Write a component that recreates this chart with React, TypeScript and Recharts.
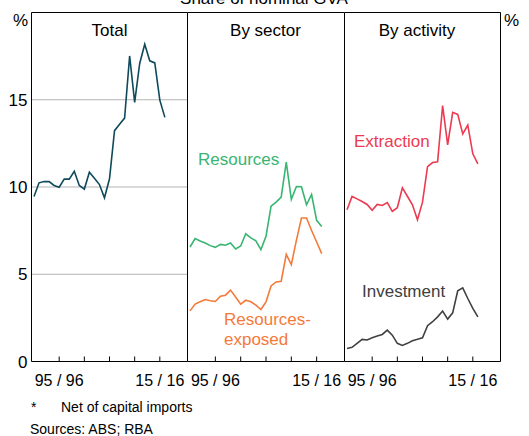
import React from 'react';
import { LineChart, Line, XAxis, YAxis, CartesianGrid } from 'recharts';

const years = [1991, 1992, 1993, 1994, 1995, 1996, 1997, 1998, 1999, 2000, 2001, 2002, 2003, 2004, 2005, 2006, 2007, 2008, 2009, 2010, 2011, 2012, 2013, 2014, 2015, 2016, 2017];
const total = [9.46, 10.24, 10.31, 10.31, 10.09, 9.99, 10.45, 10.45, 10.9, 10.09, 9.88, 10.85, 10.5, 10.14, 9.38, 10.47, 13.23, 13.6, 13.95, 17.51, 14.85, 17.08, 18.18, 17.23, 17.11, 14.98, 13.99];
const resources = [6.56, 7.04, 6.9, 6.79, 6.64, 6.54, 6.71, 6.66, 6.79, 6.45, 6.62, 7.32, 7.08, 6.92, 6.41, 7.17, 8.9, 9.13, 9.42, 11.42, 9.29, 10.03, 10.01, 8.98, 9.57, 8.09, 7.74];
const resourcesExposed = [2.9, 3.29, 3.42, 3.55, 3.48, 3.44, 3.74, 3.8, 4.09, 3.7, 3.29, 3.51, 3.42, 3.23, 2.98, 3.42, 4.33, 4.56, 4.6, 6.14, 5.55, 6.94, 8.22, 8.22, 7.51, 6.85, 6.18];
const extraction = [8.7, 9.46, 9.32, 9.17, 9.0, 8.66, 9.0, 8.94, 9.11, 8.6, 8.81, 9.95, 9.47, 8.98, 8.12, 9.13, 11.17, 11.4, 11.44, 14.66, 12.41, 14.28, 14.16, 13.04, 13.55, 11.9, 11.33];
const investment = [0.75, 0.81, 1.04, 1.27, 1.23, 1.36, 1.46, 1.55, 1.8, 1.51, 1.04, 0.92, 1.04, 1.19, 1.27, 1.36, 2.05, 2.28, 2.56, 2.89, 2.43, 2.79, 4.05, 4.22, 3.61, 3.04, 2.56];

const xTicks = [1996, 2001, 2006, 2011, 2016];
const xTickLabels: Record<number, string> = { 1996: '95 / 96', 2016: '15 / 16' };
const yTicks = [0, 5, 10, 15];
const xDomain = [1990.5, 2021.5];
const yDomain = [0, 20];

const data = years.map((year, i) => ({
  year,
  total: total[i],
  resources: resources[i],
  resourcesExposed: resourcesExposed[i],
  extraction: extraction[i],
  investment: investment[i],
}));

const W = 529;
const H = 436;
const PLOT_TOP = 12.5;
const PLOT_BOTTOM = 361.5;
const EDGES = [31.5, 187.5, 344.5, 500.5];
const FONT = 'Arial, "Liberation Sans", Helvetica, sans-serif';

const COLORS = {
  total: '#0e4a5c',
  resources: '#38b572',
  exposed: '#f47a3a',
  extraction: '#ec3a50',
  investment: '#404040',
};

function XTick(props: any) {
  const { x, y, payload } = props;
  const label = xTickLabels[payload.value];
  return (
    <g>
      <line x1={x} x2={x} y1={y} y2={y - 5} stroke="#000" strokeWidth={1} />
      {label ? (
        <text x={x} y={y + 24.5} textAnchor="middle" fontSize={16} fill="#000" fontFamily={FONT}>
          {label}
        </text>
      ) : null}
    </g>
  );
}

type SeriesDef = { key: string; color: string };

function Panel(props: { index: number; series: SeriesDef[]; leftLabels?: boolean; rightLabels?: boolean }) {
  const { index, series, leftLabels, rightLabels } = props;
  const left = EDGES[index];
  const right = EDGES[index + 1];
  const rightAxisWidth = rightLabels ? W - right : 0;
  return (
    <div style={{ position: 'absolute', left: 0, top: 0 }}>
      <LineChart
        width={W}
        height={H}
        data={data}
        margin={{ top: PLOT_TOP - 1, bottom: 0, left: 0, right: rightLabels ? 0 : W - right }}
      >
        <CartesianGrid vertical={false} stroke="#b4b4b4" strokeWidth={1} xAxisId="b" yAxisId="l" />
        <XAxis
          xAxisId="b"
          dataKey="year"
          type="number"
          domain={xDomain}
          ticks={xTicks}
          allowDataOverflow
          height={H - PLOT_BOTTOM}
          tickSize={0}
          tickMargin={0}
          tickLine={false}
          axisLine={{ stroke: '#000', strokeWidth: 1 }}
          tick={<XTick />}
          interval={0}
        />
        <XAxis
          xAxisId="t"
          orientation="top"
          dataKey="year"
          type="number"
          domain={xDomain}
          allowDataOverflow
          height={1}
          tick={false}
          tickLine={false}
          axisLine={{ stroke: '#000', strokeWidth: 1 }}
        />
        <YAxis
          yAxisId="l"
          orientation="left"
          type="number"
          domain={yDomain}
          ticks={yTicks}
          width={left}
          tickSize={0}
          tickMargin={4}
          tickLine={false}
          interval={0}
          axisLine={{ stroke: '#000', strokeWidth: 1 }}
          tick={leftLabels ? { fontSize: 17, fill: '#000', fontFamily: FONT } : false}
        />
        {rightLabels ? (
          <YAxis
            yAxisId="r"
            orientation="right"
            type="number"
            domain={yDomain}
            ticks={yTicks}
            width={rightAxisWidth}
            tickSize={0}
            tickMargin={7}
            tickLine={false}
            interval={0}
            axisLine={{ stroke: '#000', strokeWidth: 1 }}
            tick={{ fontSize: 17, fill: '#000', fontFamily: FONT }}
          />
        ) : null}
        {series.map((s) => (
          <Line
            key={s.key}
            xAxisId="b"
            yAxisId="l"
            type="linear"
            dataKey={s.key}
            stroke={s.color}
            strokeWidth={1.6}
            dot={false}
            activeDot={false}
            isAnimationActive={false}
          />
        ))}
      </LineChart>
    </div>
  );
}

export default function App() {
  const t = { fontFamily: FONT, fill: '#000' };
  return (
    <div style={{ position: 'absolute', left: 0, top: 0, width: W, height: H, background: '#fff', overflow: 'hidden' }}>
      <Panel index={0} series={[{ key: 'total', color: COLORS.total }]} leftLabels />
      <Panel
        index={1}
        series={[
          { key: 'resources', color: COLORS.resources },
          { key: 'resourcesExposed', color: COLORS.exposed },
        ]}
      />
      <Panel
        index={2}
        series={[
          { key: 'extraction', color: COLORS.extraction },
          { key: 'investment', color: COLORS.investment },
        ]}
        rightLabels
      />
      <svg width={W} height={H} style={{ position: 'absolute', left: 0, top: 0, pointerEvents: 'none' }}>
        <text x={264} y={4} textAnchor="middle" fontSize={17} {...t}>Share of nominal GVA</text>
        <text x={13} y={26} fontSize={17} {...t}>%</text>
        <text x={504} y={26} fontSize={17} {...t}>%</text>
        <text x={109.5} y={36} textAnchor="middle" fontSize={17} {...t}>Total</text>
        <text x={265.5} y={36} textAnchor="middle" fontSize={17} {...t}>By sector</text>
        <text x={417} y={36} textAnchor="middle" fontSize={17} {...t}>By activity</text>
        <text x={198} y={165} fontSize={17} fontFamily={FONT} fill={COLORS.resources}>Resources</text>
        <text x={224} y={325} fontSize={17} fontFamily={FONT} fill={COLORS.exposed}>Resources-</text>
        <text x={224} y={345} fontSize={17} fontFamily={FONT} fill={COLORS.exposed}>exposed</text>
        <text x={354} y={146.5} fontSize={17} fontFamily={FONT} fill={COLORS.extraction}>Extraction</text>
        <text x={362} y={296.5} fontSize={17} fontFamily={FONT} fill={COLORS.investment}>Investment</text>
        <text x={31} y={412} fontSize={14} {...t}>*</text>
        <text x={61} y={412} fontSize={14} {...t}>Net of capital imports</text>
        <text x={30} y={433.5} fontSize={14} {...t}>Sources: ABS; RBA</text>
      </svg>
    </div>
  );
}
